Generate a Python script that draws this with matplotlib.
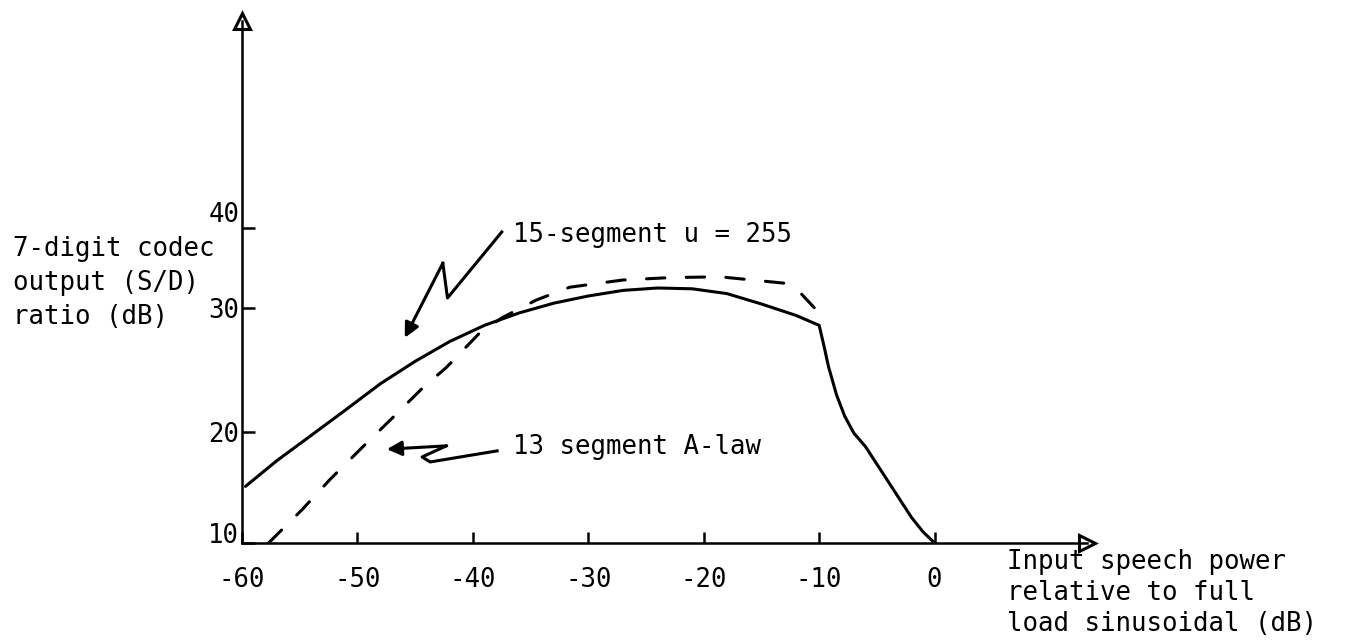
import numpy as np
import matplotlib
matplotlib.use("Agg")
import matplotlib.pyplot as plt

# 15-segment u = 255 (solid curve)
ulaw_x = [-59.7, -57, -54, -51, -48, -45, -42, -39, -36, -33, -30, -27, -24,
          -21, -18, -15, -12, -10, -9.6, -9.2, -8.5, -7.8, -7, -6, -5, -4, -3, -2, -1, 0]
ulaw_y = [15.1, 17.4, 19.7, 21.8, 23.9, 25.7, 27.3, 28.6, 29.6, 30.6, 31.5, 32.2, 32.5,
          32.4, 31.8, 30.5, 29.4, 28.6, 27.0, 25.3, 23.0, 21.3, 19.9, 18.7, 17.1, 15.5, 13.9, 12.3, 11.0, 10.0]

# 13 segment A-law (dashed curve)
alaw_x = [-57.7, -54.8, -52.4, -49.5, -46.9, -44.3, -42.3, -39.4, -37.5, -34.5, -31.6,
          -27, -22.9, -18.6, -15.8, -13, -11.7, -10.2, -10]
alaw_y = [10.0, 13.0, 15.7, 18.7, 21.2, 23.6, 25.2, 28.0, 29.2, 31.0, 32.6,
          33.5, 33.8, 33.9, 33.5, 33.1, 32.0, 29.8, 28.6]

x_ticks = [-60, -50, -40, -30, -20, -10, 0]
y_ticks = [10, 20, 30, 40]

# the hand-drawn y axis is not evenly spaced: tick value -> height above x axis (px)
y_knots = [10, 20, 30, 40, 100]
y_height = [0, 111, 235, 315, 795]

ylabel_lines = ["7-digit codec", "output (S/D)", "ratio (dB)"]
xlabel = "Input speech power\nrelative to full\nload sinusoidal (dB)"
ulaw_label = "15-segment u = 255"
alaw_label = "13 segment A-law"

# zig-zag pointer arrows (data coords), last point is the arrow tip
ulaw_ptr_x = [-37.5, -42.2, -42.6, -45.9]
ulaw_ptr_y = [39.5, 31.25, 35.6, 27.6]
alaw_ptr_x = [-37.9, -43.7, -44.4, -42.3, -47.45]
alaw_ptr_y = [18.3, 17.3, 17.75, 18.75, 18.45]

plt.rcParams['font.family'] = ['DejaVu Sans Mono', 'DejaVu Sans']
plt.rcParams['axes.unicode_minus'] = False
FS = 18.5
LW = 2.2

W, H = 1349, 642
fig = plt.figure(figsize=(W / 100, H / 100), dpi=100)
px0, px1 = 242, 1087
py0, py1 = 543, 21
ax = fig.add_axes([px0 / W, 1 - py0 / H, (px1 - px0) / W, (py0 - py1) / H])


def fwd(y):
    return np.interp(y, y_knots, y_height)


def inv(h):
    return np.interp(h, y_height, y_knots)


ax.set_yscale('function', functions=(fwd, inv))
ax.set_xlim(-60, 13.2)
ax.set_ylim(10, float(inv(py0 - py1)))

for s in ['top', 'right']:
    ax.spines[s].set_visible(False)
for s in ['left', 'bottom']:
    ax.spines[s].set_linewidth(1.8)

# arrow heads on the axes
ax.plot(1, 0, '>', transform=ax.transAxes, clip_on=False, ms=12,
        mfc='white', mec='black', mew=2.2)
ax.plot(0, 1, '^', transform=ax.transAxes, clip_on=False, ms=11,
        mfc='white', mec='black', mew=2.2)

ax.set_xticks(x_ticks)
ax.set_xticklabels([str(t) for t in x_ticks])
ax.set_yticks(y_ticks)
ax.set_yticklabels([str(t) for t in y_ticks])
ax.yaxis.set_minor_locator(matplotlib.ticker.NullLocator())
ax.tick_params(axis='x', direction='in', length=8, width=1.8, labelsize=FS, pad=17)
ax.tick_params(axis='y', direction='in', length=9, width=1.8, labelsize=FS, pad=2)
ylabs = ax.get_yticklabels()
ylabs[0].set_verticalalignment('baseline')
ylabs[-1].set_verticalalignment('bottom')

ax.plot(ulaw_x, ulaw_y, color='black', lw=LW, solid_capstyle='round', solid_joinstyle='round')
ax.plot(alaw_x, alaw_y, color='black', lw=LW, dashes=(6, 7), dash_capstyle='round')

# pointers
ax.plot(ulaw_ptr_x[:-1], ulaw_ptr_y[:-1], color='black', lw=2.2)
ax.annotate('', xy=(ulaw_ptr_x[-1], ulaw_ptr_y[-1]), xytext=(ulaw_ptr_x[-2], ulaw_ptr_y[-2]),
            arrowprops=dict(arrowstyle='-|>', color='black', lw=2.2, mutation_scale=22,
                            shrinkA=0, shrinkB=0))
ax.plot(alaw_ptr_x[:-1], alaw_ptr_y[:-1], color='black', lw=2.2)
ax.annotate('', xy=(alaw_ptr_x[-1], alaw_ptr_y[-1]), xytext=(alaw_ptr_x[-2], alaw_ptr_y[-2]),
            arrowprops=dict(arrowstyle='-|>', color='black', lw=2.2, mutation_scale=22,
                            shrinkA=0, shrinkB=0))

fig.text(513 / W, 1 - 235 / H, ulaw_label, fontsize=FS, va='center', ha='left')
fig.text(513 / W, 1 - 447 / H, alaw_label, fontsize=FS, va='center', ha='left')
for i, line in enumerate(ylabel_lines):
    fig.text(13 / W, 1 - (249 + 34 * i) / H, line, fontsize=FS, va='center', ha='left')
fig.text(1007 / W, 1 - 593 / H, xlabel, fontsize=FS, va='center', ha='left', linespacing=1.25)

fig.savefig('out.png', dpi=100)
